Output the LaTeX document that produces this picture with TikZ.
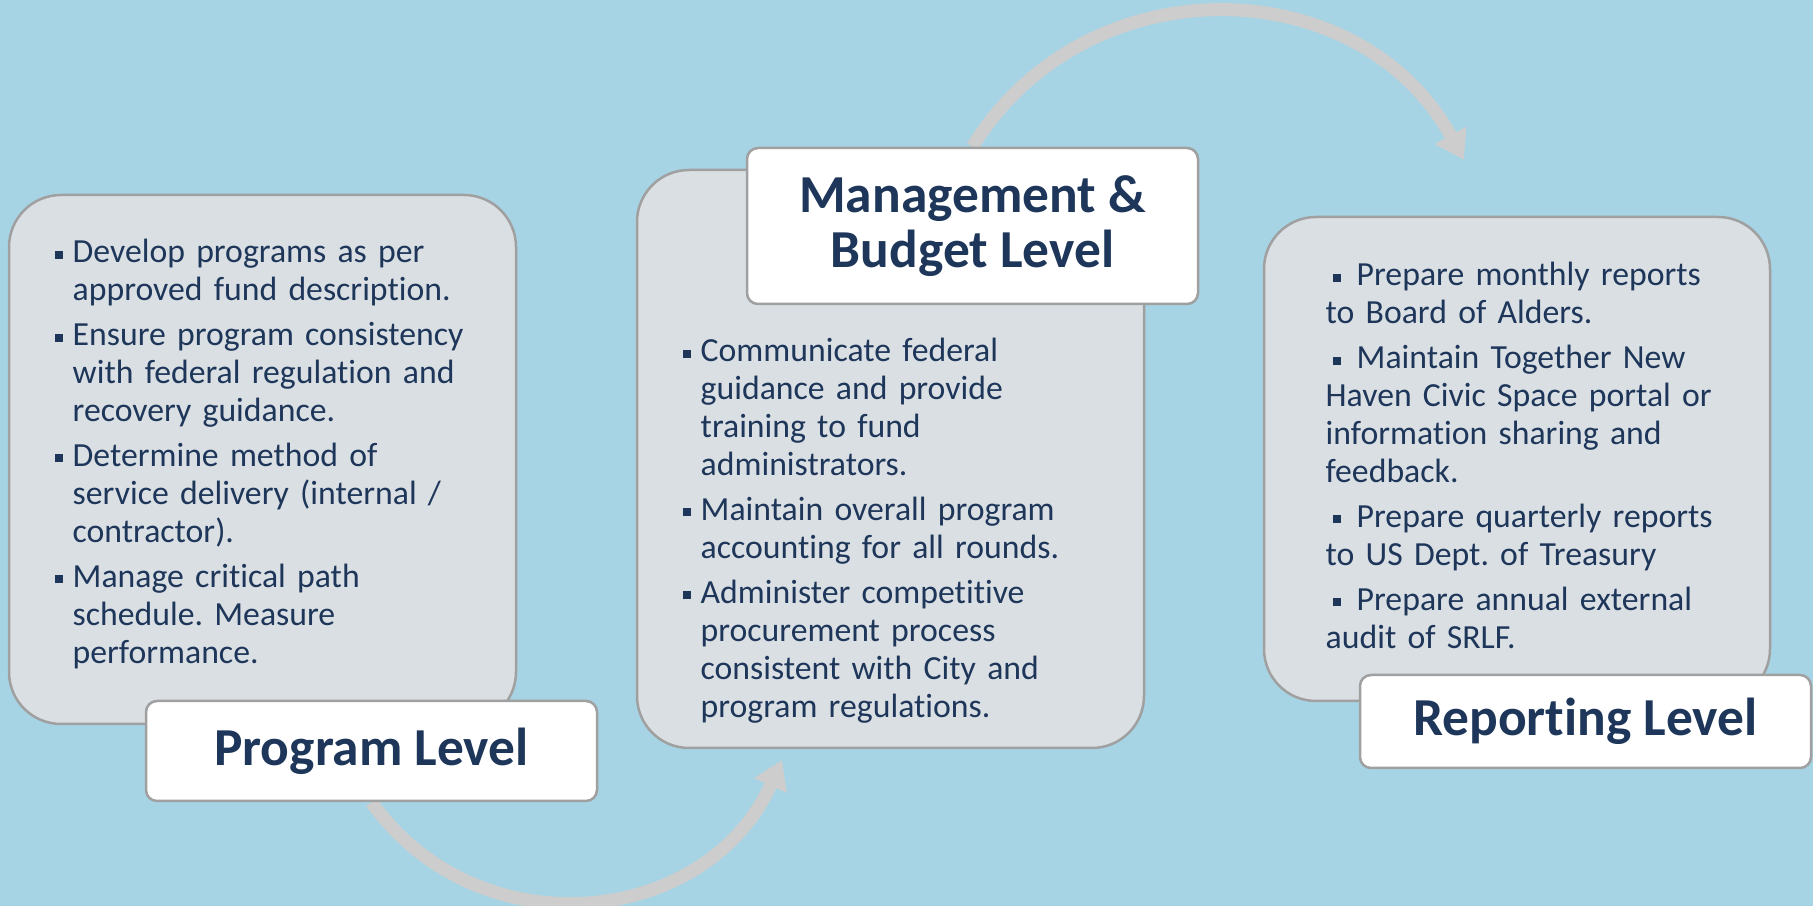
\documentclass[tikz,border=0pt]{standalone}
\usepackage{fontspec}
\setmainfont{Carlito}[Ligatures=NoCommon]
\usetikzlibrary{arrows.meta,backgrounds}

\definecolor{skyback}{RGB}{166,212,228}
\definecolor{panelgray}{RGB}{218,223,227}
\definecolor{edgegray}{RGB}{160,160,160}
\definecolor{navy}{RGB}{29,54,89}
\definecolor{flowgray}{RGB}{205,205,205}

\newcommand\bulsq{\rule[0.13em]{0.8mm}{0.8mm}}
\newcommand\hitem[1]{\hangindent=1.8mm\hangafter=1\noindent\makebox[1.8mm][l]{\bulsq}#1\par}
\newcommand\ritem[1]{\noindent\hspace*{0.7mm}\bulsq\hspace*{1.6mm}#1\par}

\tikzset{
  panel/.style={draw=edgegray, line width=0.25mm, fill=panelgray, rounded corners=5.2mm, inner sep=0pt},
  levelbox/.style={draw=edgegray, line width=0.25mm, fill=white, rounded corners=1.1mm, inner sep=0pt,
    align=center, text=navy, font=\fontsize{15.2pt}{15.8pt}\selectfont\bfseries},
  itemtext/.style={text width=48mm, align=left, inner sep=0pt, anchor=base west, text=navy,
    font=\fontsize{9.6pt}{10.8pt}\selectfont\frenchspacing},
  flow/.style={draw=flowgray, line width=1.3mm, -{Triangle[width=3.4mm,length=2.8mm]}}
}

\begin{document}
\begin{tikzpicture}[x=0.1mm,y=0.1mm]
				\useasboundingbox (0,0) rectangle (1813,906);
				\node[panel, minimum width=50.7mm, minimum height=52.9mm] (progpanel) at (262.5,446.5) {};
				\node[panel, minimum width=50.7mm, minimum height=57.8mm] (mgmtpanel) at (890.5,447) {};
				\node[panel, minimum width=50.6mm, minimum height=48.4mm] (reppanel) at (1517,447) {};

				\node[itemtext] (progtext) at (54,643) {\setlength\parskip{0.7mm}%
					\hitem{Develop programs as per\newline approved fund description.}
					\hitem{Ensure program consistency\newline with federal regulation and\newline recovery guidance.}
					\hitem{Determine method of\newline service delivery (internal /\newline contractor).}
					\hitem{Manage critical path\newline schedule. Measure\newline performance.}};
				\node[itemtext] (mgmttext) at (682,544) {\setlength\parskip{0.7mm}%
					\hitem{Communicate federal\newline guidance and provide\newline training to fund\newline administrators.}
					\hitem{Maintain overall program\newline accounting for all rounds.}
					\hitem{Administer competitive\newline procurement process\newline consistent with City and\newline program regulations.}};
				\node[itemtext] (reptext) at (1325,620) {\setlength\parskip{0.7mm}%
					\ritem{Prepare monthly reports\newline to Board of Alders.}
					\ritem{Maintain Together New\newline Haven Civic Space portal or\newline information sharing and\newline feedback.}
					\ritem{Prepare quarterly reports\newline to US Dept. of Treasury}
					\ritem{Prepare annual external\newline audit of SRLF.}};

				\node[levelbox, minimum width=45.1mm, minimum height=10mm] (prog) at (371.5,155) {Program Level};
				\node[levelbox, minimum width=45.1mm, minimum height=15.6mm] (mgmt) at (972.5,680) {Management \&\\Budget Level};
				\node[levelbox, minimum width=45.1mm, minimum height=9.3mm] (rep) at (1585.5,184.5) {Reporting Level};

				\coordinate (tip1) at (782,146);
				\coordinate (tip2) at (1464,746);
				\begin{pgfonlayer}{background}
					\fill[skyback] (0,0) rectangle (1813,906);
					\draw[flow] (prog.south) to[out=-54.4, in=245.7, looseness=1.14] (tip1);
					\draw[flow] (mgmt.north) to[out=58.3, in=118.7, looseness=1.13] (tip2);
				\end{pgfonlayer}
			\end{tikzpicture}
\end{document}
